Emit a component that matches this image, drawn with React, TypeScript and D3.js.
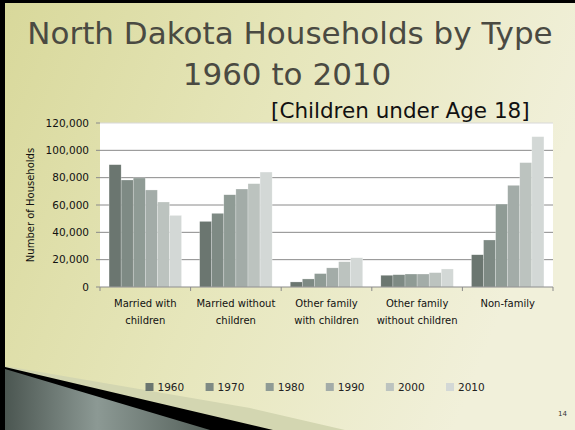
import React from "react";
import * as d3 from "d3";

const categories = [
  ["Married with", "children"],
  ["Married without", "children"],
  ["Other family", "with children"],
  ["Other family", "without children"],
  ["Non-family"],
];
const years = ["1960", "1970", "1980", "1990", "2000", "2010"];

// households per category, one value per census year
const marriedWithChildren = [89500, 78300, 79800, 71000, 62200, 52400];
const marriedWithoutChildren = [48000, 53900, 67500, 71700, 75600, 84100];
const otherWithChildren = [3700, 5900, 9800, 14000, 18500, 21400];
const otherWithoutChildren = [8600, 9000, 9500, 9500, 10500, 13200];
const nonFamily = [23600, 34400, 60700, 74400, 91000, 110000];

const yTicks = [0, 20000, 40000, 60000, 80000, 100000, 120000];
const colors = ["#6b7670", "#7e8a84", "#8f9b95", "#a3aca8", "#bcc3bf", "#d3d8d6"];

const seriesByCategory = [
  marriedWithChildren,
  marriedWithoutChildren,
  otherWithChildren,
  otherWithoutChildren,
  nonFamily,
];

const W = 575;
const H = 430;
const MARGIN = { TOP: 123, RIGHT: 22, BOTTOM: 143, LEFT: 100 };
const FONT = "'DejaVu Sans', Verdana, sans-serif";

const App = () => {
  const x0 = d3
    .scaleBand<number>()
    .domain(d3.range(categories.length))
    .range([MARGIN.LEFT, W - MARGIN.RIGHT])
    .paddingInner(0.2)
    .paddingOuter(0.1);
  const x1 = d3
    .scaleBand<string>()
    .domain(years)
    .range([0, x0.bandwidth()]);
  const y = d3
    .scaleLinear()
    .domain([0, 120000])
    .range([H - MARGIN.BOTTOM, MARGIN.TOP]);
  const fmt = d3.format(",");
  const step = x0.step();
  const left = MARGIN.LEFT;
  const right = W - MARGIN.RIGHT;

  return (
    <svg
      width={W}
      height={H}
      style={{ position: "absolute", left: 0, top: 0, display: "block" }}
    >
      <defs>
        <linearGradient id="bg" x1="0" y1="0" x2="1" y2="0.3">
          <stop offset="0" stopColor="#d8d89a" />
          <stop offset="0.5" stopColor="#e6e6bb" />
          <stop offset="1" stopColor="#f1f0da" />
        </linearGradient>
        <linearGradient id="wedge" x1="0" y1="0" x2="1" y2="0">
          <stop offset="0" stopColor="#4b5651" />
          <stop offset="0.45" stopColor="#8c9994" />
          <stop offset="1" stopColor="#55615b" />
        </linearGradient>
      </defs>
      <rect width={W} height={H} fill="url(#bg)" />
      <rect x={0} y={0} width={W} height={3} fill="#000" />
      <rect x={0} y={0} width={5} height={H} fill="#000" />

      {/* bottom-left swoosh */}
      <polygon points="5,366 250,408 345,430 5,430" fill="#d3d6b1" />
      <polygon points="5,367 290,434 5,434" fill="#000" />
      <polygon points="5,369 210,430 5,430" fill="url(#wedge)" />

      <text
        x={290}
        y={44}
        textAnchor="middle"
        fontFamily={FONT}
        fontSize={31}
        fill="#4a4a42"
      >
        North Dakota Households by Type
      </text>
      <text
        x={287}
        y={85}
        textAnchor="middle"
        fontFamily={FONT}
        fontSize={31}
        fill="#4a4a42"
      >
        1960 to 2010
      </text>
      <text x={271} y={118} fontFamily={FONT} fontSize={21.5} fill="#111">
        [Children under Age 18]
      </text>

      {/* plot area */}
      <rect
        x={left}
        y={MARGIN.TOP}
        width={right - left}
        height={H - MARGIN.BOTTOM - MARGIN.TOP}
        fill="#fff"
      />
      {yTicks.map((t) => (
        <g key={t}>
          {t > 0 && (
            <line
              x1={left}
              x2={right}
              y1={y(t)}
              y2={y(t)}
              stroke={t === 120000 ? "#d8d8d8" : "#8a8a8a"}
              strokeWidth={1}
            />
          )}
          <line x1={left - 4} x2={left} y1={y(t)} y2={y(t)} stroke="#8a8a8a" />
          <text
            x={left - 11}
            y={y(t)}
            dy="0.35em"
            textAnchor="end"
            fontFamily={FONT}
            fontSize={10.5}
            fill="#111"
          >
            {fmt(t)}
          </text>
        </g>
      ))}

      {seriesByCategory.map((vals, ci) => (
        <g key={ci} transform={`translate(${x0(ci)},0)`}>
          {vals.map((v, yi) => (
            <rect
              key={yi}
              x={x1(years[yi])}
              y={y(v)}
              width={x1.bandwidth()}
              height={y(0) - y(v)}
              fill={colors[yi]}
              stroke="#ffffff"
              strokeOpacity={0.5}
              strokeWidth={0.5}
            />
          ))}
        </g>
      ))}

      <line x1={left} x2={right} y1={y(0)} y2={y(0)} stroke="#8a8a8a" />
      {d3.range(categories.length + 1).map((i) => (
        <line
          key={i}
          x1={left + i * step}
          x2={left + i * step}
          y1={y(0)}
          y2={y(0) + 4}
          stroke="#8a8a8a"
        />
      ))}
      {categories.map((lines, ci) => (
        <text
          key={ci}
          x={(x0(ci) ?? 0) + x0.bandwidth() / 2}
          y={y(0) + 20}
          textAnchor="middle"
          fontFamily={FONT}
          fontSize={10}
          fill="#111"
        >
          {lines.map((l, li) => (
            <tspan key={li} x={(x0(ci) ?? 0) + x0.bandwidth() / 2} dy={li === 0 ? 0 : 17}>
              {l}
            </tspan>
          ))}
        </text>
      ))}

      <text
        transform={`translate(34,${(y(0) + MARGIN.TOP) / 2}) rotate(-90)`}
        textAnchor="middle"
        fontFamily={FONT}
        fontSize={10}
        fill="#111"
      >
        Number of Households
      </text>

      {/* legend */}
      {years.map((yr, i) => (
        <g key={yr} transform={`translate(${145.5 + i * 60.1},387)`}>
          <rect x={0} y={-4} width={8} height={8} fill={colors[i]} />
          <text x={12} y={0} dy="0.36em" fontFamily={FONT} fontSize={10.5} fill="#222">
            {yr}
          </text>
        </g>
      ))}

      <text x={558} y={416} fontFamily={FONT} fontSize={7} fill="#333">
        14
      </text>
    </svg>
  );
};

export default App;
